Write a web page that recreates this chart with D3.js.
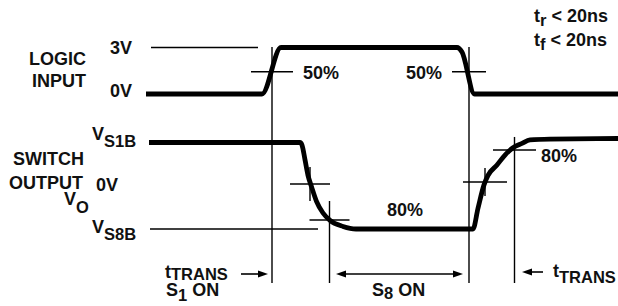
<!DOCTYPE html>
<html>
<head>
<meta charset="utf-8">
<script src="https://cdn.jsdelivr.net/npm/d3@7/dist/d3.min.js"></script>
<style>
  html, body { margin: 0; padding: 0; background: #fff; }
  svg { display: block; }
  text { font-family: "Liberation Sans", Arial, Helvetica, sans-serif; font-weight: bold; fill: #111; }
</style>
</head>
<body>
<svg id="chart" width="618" height="306"></svg>
<script>
// time axis in arbitrary units (1 unit = 2 px on screen)
// logic input waveform, volts
const logicTime  = [0, 58, 67.5, 155.5, 158, 164.25, 236];
const logicLevel = [0, 0, 3, 3, 2.71, 0, 0];

// switch output waveform, 1 = V_S1B, 0 = V_S8B
const outTime  = [1.5, 77, 78, 79.5, 81, 82.75, 85.25, 88.5, 92, 98.5, 105, 163.5, 166, 169, 171, 175.5, 179.5, 183.5, 188, 192, 202, 236];
const outLevel = [1, 1, 0.97, 0.8, 0.62, 0.49, 0.32, 0.185, 0.1, 0.03, 0, 0, 0.24, 0.51, 0.62, 0.74, 0.855, 0.94, 0.99, 1.03, 1.04, 1.046];

// 50% crossings of the logic input
const logicCross = [63, 161.5];
const logicTickHalf = [10.5, 8.5];

// measurement ticks on the output: time, level, half width, vertical top level
const outTickTime  = [82, 91.75, 169.5, 184.25];
const outTickLevel = [0.52, 0.104, 0.543, 0.913];
const outTickHalf  = [10, 10, 11, 10.75];
const outTickTop   = [0.717, 0.324, 0.705, 1.064];
const outTickLong  = [false, true, false, true];

// reference lines: 3V line and V_S8B line
const refLogic = [2.5, 56];
const refOut   = [2, 86];

// timing arrows along the bottom
const arrowFrom = [47.5, 95, 198.5];
const arrowTo   = [61, 158.5, 188];
const arrowBoth = [false, true, false];

const leftLabels  = ['LOGIC', 'INPUT', 'SWITCH', 'OUTPUT'];
const logicTicks  = ['3V', '0V'];
const pctLabels   = ['50%', '50%', '80%', '80%'];
const specLabels  = [['t', 'r', ' < 20ns'], ['t', 'f', ' < 20ns']];

const svg = d3.select('#chart');

const x = d3.scaleLinear().domain([0, 236]).range([146, 618]);
const yLogic = d3.scaleLinear().domain([0, 3]).range([94, 47.5]);
const yOut = d3.scaleLinear().domain([0, 1]).range([229, 142.5]);
const guideBottom = 283;

const thin = 1.4;

// thin reference lines
svg.append('line')
  .attr('x1', x(refLogic[0])).attr('x2', x(refLogic[1]))
  .attr('y1', yLogic(3)).attr('y2', yLogic(3))
  .attr('stroke', '#000').attr('stroke-width', thin);
svg.append('line')
  .attr('x1', x(refOut[0])).attr('x2', x(refOut[1]))
  .attr('y1', yOut(0)).attr('y2', yOut(0))
  .attr('stroke', '#000').attr('stroke-width', thin);

// vertical guides at the logic 50% points
logicCross.forEach((t, i) => {
  svg.append('line')
    .attr('x1', x(t)).attr('x2', x(t))
    .attr('y1', yLogic(3) - 0.5).attr('y2', guideBottom)
    .attr('stroke', '#000').attr('stroke-width', thin);
  svg.append('line')
    .attr('x1', x(t - logicTickHalf[i])).attr('x2', x(t + logicTickHalf[i]))
    .attr('y1', yLogic(1.5) + 1).attr('y2', yLogic(1.5) + 1)
    .attr('stroke', '#000').attr('stroke-width', thin);
});

// output measurement ticks
outTickTime.forEach((t, i) => {
  const yy = yOut(outTickLevel[i]);
  svg.append('line')
    .attr('x1', x(t - outTickHalf[i])).attr('x2', x(t + outTickHalf[i]))
    .attr('y1', yy).attr('y2', yy)
    .attr('stroke', '#000').attr('stroke-width', thin);
  const bottom = outTickLong[i] ? guideBottom : yy + (yy - yOut(outTickTop[i]));
  svg.append('line')
    .attr('x1', x(t)).attr('x2', x(t))
    .attr('y1', yOut(outTickTop[i])).attr('y2', bottom)
    .attr('stroke', '#000').attr('stroke-width', thin);
});

// waveforms
const logicLine = d3.line()
  .x((d, i) => x(logicTime[i]))
  .y(d => yLogic(d))
  .curve(d3.curveMonotoneX);
svg.append('path')
  .attr('d', logicLine(logicLevel))
  .attr('fill', 'none').attr('stroke', '#000')
  .attr('stroke-width', 4.8).attr('stroke-linejoin', 'round');

const outLine = d3.line()
  .x((d, i) => x(outTime[i]))
  .y(d => yOut(d))
  .curve(d3.curveMonotoneX);
svg.append('path')
  .attr('d', outLine(outLevel))
  .attr('fill', 'none').attr('stroke', '#000')
  .attr('stroke-width', 4.8).attr('stroke-linejoin', 'round');

// arrows
const arrowY = [274, 274, 272];
function head(tip, dir, yy) {
  const len = 10, w = 3.6;
  return `M${tip},${yy} L${tip - dir * len},${yy - w} L${tip - dir * len},${yy + w} Z`;
}
arrowFrom.forEach((f, i) => {
  const x1 = x(f), x2 = x(arrowTo[i]), yy = arrowY[i];
  const dir = x2 > x1 ? 1 : -1;
  svg.append('line')
    .attr('x1', arrowBoth[i] ? x1 + dir * 6 : x1).attr('x2', x2 - dir * 6)
    .attr('y1', yy).attr('y2', yy)
    .attr('stroke', '#000').attr('stroke-width', 1.6);
  svg.append('path').attr('d', head(x2, dir, yy)).attr('fill', '#000');
  if (arrowBoth[i]) {
    svg.append('path').attr('d', head(x1, -dir, yy)).attr('fill', '#000');
  }
});

// text helpers
const fs = 18, sub = 16.5;
function label(parts, px, py, anchor) {
  // parts: [text, isSub, dy]
  const t = svg.append('text')
    .attr('x', px).attr('y', py)
    .attr('font-size', fs)
    .attr('text-anchor', anchor || 'start');
  parts.forEach(p => {
    const s = t.append('tspan').text(p[0]);
    if (p[1]) s.attr('font-size', sub);
    if (p[2]) s.attr('dy', p[2]);
  });
  return t;
}

label([[leftLabels[0]]], 86, 65, 'end');
label([[leftLabels[1]]], 86, 87, 'end');
label([[leftLabels[2]]], 13, 165);
label([[leftLabels[3]]], 9, 189);
label([['V'], ['O', true, 8]], 64, 205);

label([[logicTicks[0]]], 110, yLogic(3) + 6.5);
label([[logicTicks[1]]], 110, yLogic(0) + 3);

label([['V'], ['S1B', true, 7]], 92, yOut(1) - 2.5);
label([['0V']], 96, yOut(0.5) + 5.5);
label([['V'], ['S8B', true, 7]], 92, yOut(0) + 4);

label([[pctLabels[0]]], 303, 79);
label([[pctLabels[1]]], 406, 79);
label([[pctLabels[2]]], 387, 216);
label([[pctLabels[3]]], 541, 162);

specLabels.forEach((s, i) => {
  label([[s[0]], [s[1], true, 4], [s[2], false, -4]], 534, 22 + i * 24);
});

label([['t'], ['TRANS', true, 2]], 165, 278);
label([['S'], ['1', true, 5], [' ON', false, -5]], 166, 296);
label([['S'], ['8', true, 3], [' ON', false, -3]], 372, 296);
label([['t'], ['TRANS', true, 6]], 553, 277);
</script>
</body>
</html>
